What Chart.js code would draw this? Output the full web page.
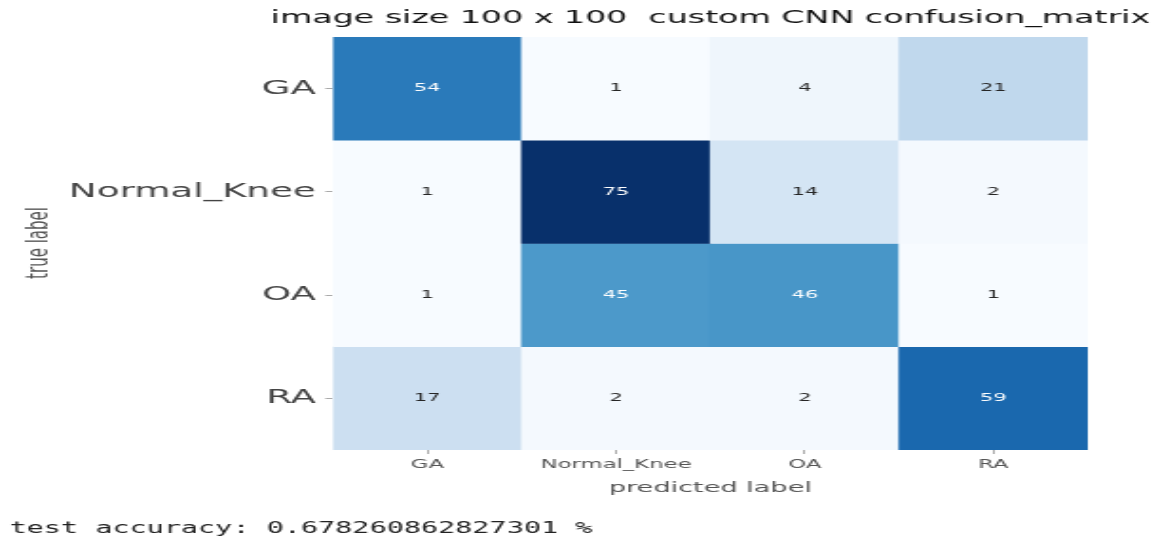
<!DOCTYPE html>
<html>
<head>
<meta charset="utf-8">
<title>custom CNN confusion_matrix</title>
<script src="https://cdn.jsdelivr.net/npm/chart.js@4/dist/chart.umd.min.js"></script>
<style>
    html, body { margin: 0; padding: 0; background: #ffffff; overflow: hidden; }
    /* the figure is drawn narrow and stretched sideways */
    #wrap { width: 610px; height: 542px; transform: scaleX(1.8984); transform-origin: 0 0; }
</style>
</head>
<body>
<div id="wrap"><canvas id="cmChart"></canvas></div>
<script>
// Etiquetas das classes (linhas = verdadeiro, colunas = previsto)
const trueLabels = ['GA', 'Normal_Knee', 'OA', 'RA'];
const predLabels = ['GA', 'Normal_Knee', 'OA', 'RA'];

// Contagens por linha da matriz de confusão
const rowGA = [54, 1, 4, 21];
const rowNormalKnee = [1, 75, 14, 2];
const rowOA = [1, 45, 46, 1];
const rowRA = [17, 2, 2, 59];
const rows = [rowGA, rowNormalKnee, rowOA, rowRA];

const titleText = 'image size 100 x 100  custom CNN confusion_matrix';
const accuracyText = 'test accuracy: 0.678260862827301 %';

// Paleta "Blues" (9 passos)
const bluesStops = ['#f7fbff', '#deebf7', '#c6dbef', '#9ecae1', '#6baed6', '#4292c6', '#2171b5', '#08519c', '#08306b'];

const allValues = rows.flat();
const vMin = Math.min(...allValues);
const vMax = Math.max(...allValues);

function hexToRgb(h) {
    return [parseInt(h.slice(1, 3), 16), parseInt(h.slice(3, 5), 16), parseInt(h.slice(5, 7), 16)];
}

function bluesRgb(v) {
    const t = (v - vMin) / (vMax - vMin);
    const pos = t * (bluesStops.length - 1);
    const i = Math.min(Math.floor(pos), bluesStops.length - 2);
    const f = pos - i;
    const a = hexToRgb(bluesStops[i]);
    const b = hexToRgb(bluesStops[i + 1]);
    return a.map((c, k) => Math.round(c + (b[k] - c) * f));
}

function blues(v) {
    const c = bluesRgb(v);
    return `rgb(${c[0]}, ${c[1]}, ${c[2]})`;
}

// Cor do texto conforme a luminância da célula
function textColor(v) {
    const lin = bluesRgb(v).map(c => {
        c /= 255;
        return c <= 0.03928 ? c / 12.92 : Math.pow((c + 0.055) / 1.055, 2.4);
    });
    const lum = 0.2126 * lin[0] + 0.7152 * lin[1] + 0.0722 * lin[2];
    return lum > 0.408 ? '#262626' : '#ffffff';
}

Chart.defaults.font.family = "'DejaVu Sans', sans-serif";
Chart.defaults.color = '#444444';

// Cada linha vira um dataset de barras flutuantes [r, r+1]
const datasets = rows.map((vals, r) => ({
    label: trueLabels[r],
    data: vals.map(() => [r, r + 1]),
    counts: vals,
    backgroundColor: vals.map(blues),
    borderWidth: 0,
    grouped: false,
    barPercentage: 1,
    categoryPercentage: 1
}));

// Textos das células, título e rótulos dos eixos
const annotatePlugin = {
    id: 'annotate',
    afterDraw(chart) {
        const ctx = chart.ctx;
        const area = chart.chartArea;
        ctx.save();

        ctx.textAlign = 'center';
        ctx.textBaseline = 'middle';
        ctx.font = "11px 'DejaVu Sans'";
        chart.data.datasets.forEach((ds, di) => {
            chart.getDatasetMeta(di).data.forEach((el, i) => {
                const p = el.getCenterPoint();
                ctx.fillStyle = textColor(ds.counts[i]);
                ctx.fillText(String(ds.counts[i]), p.x, p.y);
            });
        });

        const cx = (area.left + area.right) / 2;
        ctx.fillStyle = '#111111';
        ctx.font = "17.5px 'DejaVu Sans'";
        ctx.fillText(titleText, cx, 18);

        ctx.fillStyle = '#555555';
        ctx.font = "14.3px 'DejaVu Sans'";
        ctx.fillText('predicted label', cx, 488);

        ctx.save();
        ctx.translate(21, 243);
        ctx.rotate(-Math.PI / 2);
        ctx.font = "15px 'DejaVu Sans'";
        ctx.fillText('true label', 0, 0);
        ctx.restore();

        ctx.textAlign = 'left';
        ctx.fillStyle = '#222222';
        ctx.font = "15px 'DejaVu Sans Mono'";
        ctx.fillText(accuracyText, 5, 529);

        ctx.restore();
    }
};

new Chart(document.getElementById('cmChart'), {
    type: 'bar',
    data: { labels: predLabels, datasets: datasets },
    options: {
        responsive: true,
        maintainAspectRatio: false,
        animation: false,
        layout: { padding: { top: 37, right: 37, left: 0, bottom: 0 } },
        plugins: {
            legend: { display: false },
            tooltip: { enabled: false },
            title: { display: false }
        },
        scales: {
            x: {
                type: 'category',
                offset: true,
                afterFit(scale) { scale.height = 92; },
                border: { display: false },
                grid: { drawOnChartArea: false, offset: false, tickLength: 4, color: '#aaaaaa' },
                ticks: { padding: 4, color: '#555555', font: { size: 12 }, maxRotation: 0 }
            },
            y: {
                type: 'linear',
                min: 0,
                max: 4,
                reverse: true,
                afterFit(scale) { scale.width = 175.4; },
                afterBuildTicks(scale) {
                    scale.ticks = trueLabels.map((_, i) => ({ value: i + 0.5 }));
                },
                border: { display: false },
                grid: { drawOnChartArea: false, tickLength: 4, color: '#aaaaaa' },
                ticks: {
                    padding: 5,
                    color: '#444444',
                    font: { size: 19.6 },
                    callback: (value, index) => trueLabels[index]
                }
            }
        }
    },
    plugins: [annotatePlugin]
});
</script>
</body>
</html>
